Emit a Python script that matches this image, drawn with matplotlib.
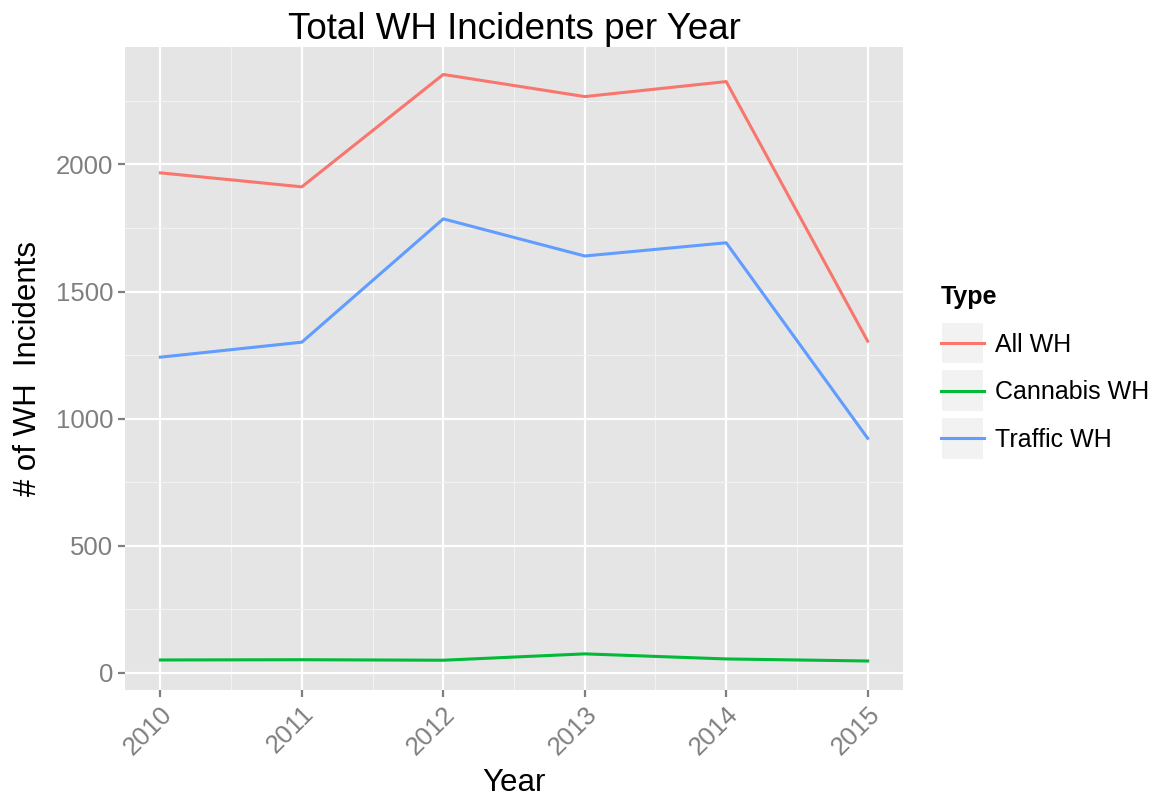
"""Total WH incidents per year, ggplot2-style line chart."""
import matplotlib
matplotlib.use("Agg")
import matplotlib.pyplot as plt
from matplotlib.legend_handler import HandlerLine2D
from matplotlib.patches import Rectangle
from matplotlib.ticker import MultipleLocator

plt.rcParams["font.family"] = ["Liberation Sans", "DejaVu Sans"]

years = [2010, 2011, 2012, 2013, 2014, 2015]
all_wh = [1967, 1912, 2354, 2267, 2326, 1305]
cannabis_wh = [51, 52, 50, 75, 55, 47]
traffic_wh = [1242, 1301, 1786, 1640, 1692, 923]

series = [("All WH", all_wh, "#F8766D"),
          ("Cannabis WH", cannabis_wh, "#00BA38"),
          ("Traffic WH", traffic_wh, "#619CFF")]


class KeyHandler(HandlerLine2D):
    """Line key drawn on a light-grey square, like ggplot legend keys."""

    def create_artists(self, legend, orig_handle, xdescent, ydescent,
                       width, height, fontsize, trans):
        artists = super().create_artists(legend, orig_handle, xdescent, ydescent,
                                         width, height, fontsize, trans)
        pad = 0.08 * width
        for a in artists:
            xd = a.get_xdata()
            if len(xd) == 2:
                a.set_xdata([xd[0] + pad, xd[1] - pad])
        cy = height / 2 - ydescent
        box = Rectangle((-xdescent, cy - width / 2), width, width,
                        facecolor="#F2F2F2", edgecolor="white", linewidth=1.5,
                        transform=trans, zorder=0)
        return [box] + artists


fig = plt.figure(figsize=(11.64, 8.05), dpi=100)
ax = fig.add_axes([0.1074, 0.1429, 0.6684, 0.7987])
ax.set_facecolor("#E5E5E5")

for name, vals, col in series:
    ax.plot(years, vals, color=col, linewidth=2.2, label=name, zorder=3)

ax.set_xlim(2009.75, 2015.25)
ax.set_ylim(-67, 2462)
ax.xaxis.set_major_locator(MultipleLocator(1))
ax.xaxis.set_minor_locator(MultipleLocator(0.5))
ax.yaxis.set_major_locator(MultipleLocator(500))
ax.yaxis.set_minor_locator(MultipleLocator(250))
ax.grid(which="major", color="white", linewidth=1.6)
ax.grid(which="minor", color="#F2F2F2", linewidth=0.8)
ax.set_axisbelow(True)
for s in ax.spines.values():
    s.set_visible(False)

ax.tick_params(which="major", length=5, width=1.6, color="#7F7F7F",
               labelcolor="#7F7F7F", labelsize=18.5)
ax.tick_params(which="minor", length=0)
ax.set_xticks(years)
ax.set_xticklabels([str(y) for y in years], rotation=45, ha="right",
                   rotation_mode="anchor")

ax.set_xlabel("Year", fontsize=22.5, labelpad=6)
ax.set_ylabel("# of WH  Incidents", fontsize=22.5, labelpad=9)
ax.set_title("Total WH Incidents per Year", fontsize=26.5, pad=5)

leg = ax.legend(title="Type", loc="upper left", bbox_to_anchor=(1.02, 0.665),
                frameon=False, fontsize=18, title_fontsize=18,
                handlelength=1.7, handletextpad=0.45, labelspacing=0.95,
                handler_map={plt.Line2D: KeyHandler()})
leg.get_title().set_fontweight("bold")
leg._legend_box.align = "left"

fig.savefig("out.png", dpi=100)
